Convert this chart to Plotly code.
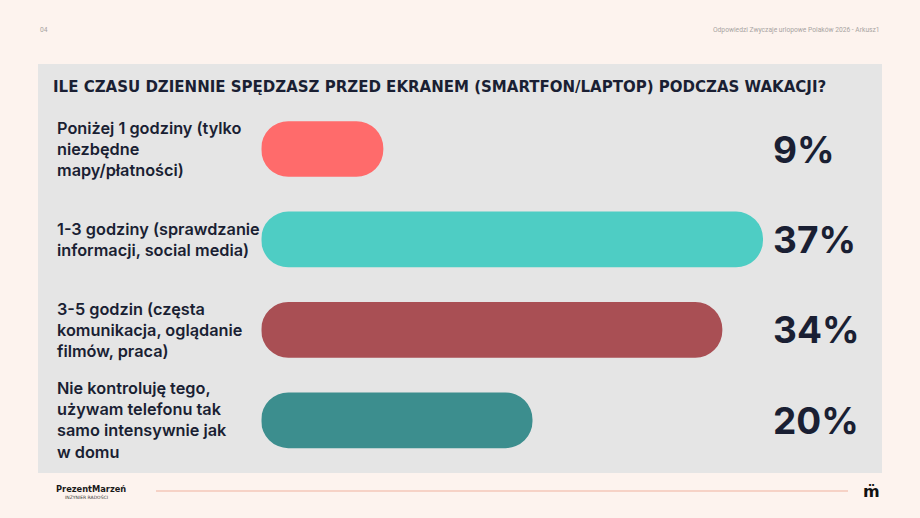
"""
Ile czasu dziennie spedzasz przed ekranem podczas wakacji - wykres slupkowy poziomy
"""

import plotly.graph_objects as go

categories = [
    "Poniżej 1 godziny (tylko<br>niezbędne<br>mapy/płatności)",
    "1-3 godziny (sprawdzanie<br>informacji, social media)",
    "3-5 godzin (częsta<br>komunikacja, oglądanie<br>filmów, praca)",
    "Nie kontroluję tego,<br>używam telefonu tak<br>samo intensywnie jak<br>w domu",
]
values = [9, 37, 34, 20]
bar_colors = ["#FF6B6B", "#4ECDC4", "#A94F54", "#3C8E8E"]

title_text = "ILE CZASU DZIENNIE SPĘDZASZ PRZED EKRANEM (SMARTFON/LAPTOP) PODCZAS WAKACJI?"
page_no = "04"
source_text = "Odpowiedzi Zwyczaje urlopowe Polaków 2026 - Arkusz1"

W, H = 920, 518
DARK = "#1A1F33"
X_MAX = 620.7 / 13.56  # value range of the bar area


def px_x(v):
    return v / W


def px_y(v):
    return 1 - v / H


def draw_plots():
    """Build the horizontal rounded bar chart and save it to out.html."""
    ids = list(range(len(categories)))

    fig = go.Figure()
    # an explicit base makes plotly round both ends -> pill shaped bars
    fig.add_trace(go.Bar(
        x=values, base=[0] * len(values), y=ids, orientation="h",
        marker=dict(color=bar_colors, cornerradius="50%", line=dict(width=0)),
        hoverinfo="skip",
    ))

    # background panels
    shapes = [
        dict(type="rect", xref="paper", yref="paper", layer="below",
             x0=px_x(38), x1=px_x(882), y0=px_y(473), y1=px_y(64),
             fillcolor="#E5E5E5", line=dict(width=0)),
        dict(type="line", xref="paper", yref="paper",
             x0=px_x(156), x1=px_x(848), y0=px_y(491), y1=px_y(491),
             line=dict(color="#F6D2C6", width=2)),
    ]

    annotations = []
    for i, (cat, val) in enumerate(zip(categories, values)):
        annotations.append(dict(
            x=px_x(55), xref="paper", y=i, yref="y",
            text=cat, showarrow=False, xanchor="left", yanchor="middle", align="left",
            font=dict(family="Inter", size=16.3, color=DARK, weight=600),
        ))
        annotations.append(dict(
            x=px_x(771), xref="paper", y=i, yref="y",
            text=f"{val}%", showarrow=False, xanchor="left", yanchor="middle",
            font=dict(family="Inter", size=37, color=DARK, weight=700),
        ))

    annotations += [
        dict(x=px_x(51), y=px_y(86), xref="paper", yref="paper", text=title_text,
             showarrow=False, xanchor="left", yanchor="middle",
             font=dict(family="DejaVu Sans Condensed", size=16.7, color=DARK, weight=700)),
        dict(x=px_x(38), y=px_y(30), xref="paper", yref="paper", text=page_no,
             showarrow=False, xanchor="left", yanchor="middle",
             font=dict(family="Roboto", size=6.7, color="#A8A4A2")),
        dict(x=px_x(882), y=px_y(30), xref="paper", yref="paper", text=source_text,
             showarrow=False, xanchor="right", yanchor="middle",
             font=dict(family="Roboto", size=6.7, color="#A8A4A2")),
        dict(x=px_x(54), y=px_y(488), xref="paper", yref="paper", text="<b>PrezentMarzeń</b>",
             showarrow=False, xanchor="left", yanchor="middle",
             font=dict(family="DejaVu Sans Condensed", size=9.2, color="#1A1A1A")),
        dict(x=px_x(63), y=px_y(497), xref="paper", yref="paper", text="INŻYNIER RADOŚCI",
             showarrow=False, xanchor="left", yanchor="middle",
             font=dict(family="DejaVu Sans", size=4.5, color="#333333")),
        dict(x=px_x(871), y=px_y(491), xref="paper", yref="paper", text="<b>m̈</b>",
             showarrow=False, xanchor="center", yanchor="middle",
             font=dict(family="DejaVu Sans", size=16, color="#111111")),
    ]

    fig.update_layout(
        width=W, height=H,
        margin=dict(l=0, r=0, t=0, b=0),
        paper_bgcolor="#FDF3EE",
        plot_bgcolor="rgba(0,0,0,0)",
        showlegend=False,
        bargap=0.384,
        xaxis=dict(domain=[px_x(261.3), px_x(882)], range=[0, X_MAX],
                   visible=False, fixedrange=True),
        yaxis=dict(domain=[px_y(465.5), px_y(103.8)], range=[3.5, -0.5],
                   visible=False, fixedrange=True),
        shapes=shapes,
        annotations=annotations,
    )
    # drop the default page margin so the figure sits flush in the window
    fig.write_html("out.html", config={"displayModeBar": False},
                   post_script="document.body.style.margin='0';document.body.style.overflow='hidden';")


def main():
    draw_plots()


if __name__ == "__main__":
    main()
